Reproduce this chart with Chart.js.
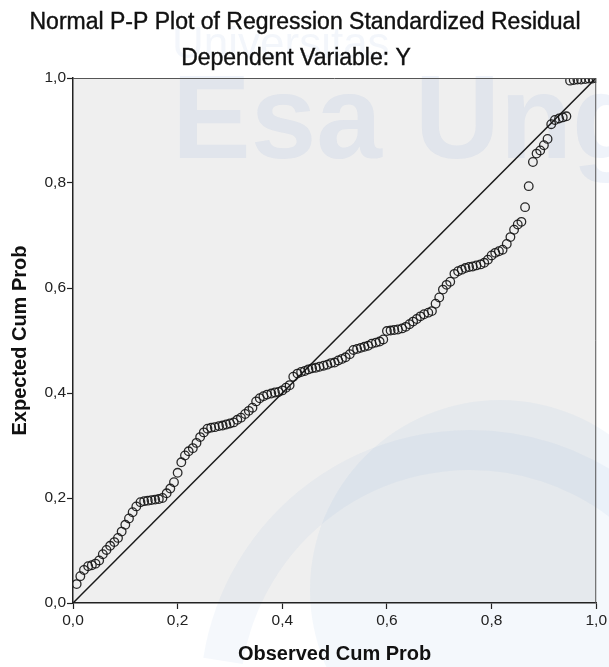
<!DOCTYPE html>
<html>
<head>
<meta charset="utf-8">
<script src="https://cdn.jsdelivr.net/npm/chart.js@4.4.1/dist/chart.umd.min.js"></script>
<style>
  html, body { margin: 0; padding: 0; background: #fff; }
  #wrap { width: 609px; height: 667px; }
</style>
</head>
<body>
<div id="wrap"><canvas id="ppChart" width="609" height="667"></canvas></div>
<script>
// Normal P-P plot data
const observedCumProb = [
  0.007, 0.014, 0.021, 0.029, 0.036, 0.043, 0.050, 0.057, 0.064, 0.071,
  0.079, 0.086, 0.093, 0.100, 0.107, 0.114, 0.121, 0.129, 0.136, 0.143,
  0.150, 0.157, 0.164, 0.171, 0.179, 0.186, 0.193, 0.200, 0.207, 0.214,
  0.221, 0.229, 0.236, 0.243, 0.250, 0.257, 0.264, 0.271, 0.279, 0.286,
  0.293, 0.300, 0.307, 0.314, 0.321, 0.329, 0.336, 0.343, 0.350, 0.357,
  0.364, 0.371, 0.379, 0.386, 0.393, 0.400, 0.407, 0.414, 0.421, 0.429,
  0.436, 0.443, 0.450, 0.457, 0.464, 0.471, 0.479, 0.486, 0.493, 0.500,
  0.507, 0.514, 0.521, 0.529, 0.536, 0.543, 0.550, 0.557, 0.564, 0.571,
  0.579, 0.586, 0.593, 0.600, 0.607, 0.614, 0.621, 0.629, 0.636, 0.643,
  0.650, 0.657, 0.664, 0.671, 0.679, 0.686, 0.693, 0.700, 0.707, 0.714,
  0.721, 0.729, 0.736, 0.743, 0.750, 0.757, 0.764, 0.771, 0.779, 0.786,
  0.793, 0.800, 0.807, 0.814, 0.821, 0.829, 0.836, 0.843, 0.850, 0.857,
  0.864, 0.871, 0.879, 0.886, 0.893, 0.900, 0.907, 0.914, 0.921, 0.929,
  0.936, 0.943, 0.950, 0.957, 0.964, 0.971, 0.979, 0.986, 0.993, 1.000
];
const expectedCumProb = [
  0.036, 0.051, 0.063, 0.070, 0.072, 0.075, 0.081, 0.093, 0.101, 0.109,
  0.116, 0.124, 0.136, 0.149, 0.161, 0.173, 0.184, 0.192, 0.194, 0.195,
  0.196, 0.197, 0.198, 0.200, 0.209, 0.218, 0.230, 0.248, 0.268, 0.281,
  0.289, 0.295, 0.305, 0.316, 0.325, 0.332, 0.334, 0.335, 0.337, 0.338,
  0.340, 0.342, 0.344, 0.349, 0.353, 0.360, 0.366, 0.372, 0.384, 0.390,
  0.394, 0.397, 0.399, 0.401, 0.402, 0.405, 0.410, 0.415, 0.431, 0.437,
  0.440, 0.442, 0.445, 0.447, 0.448, 0.450, 0.452, 0.454, 0.457, 0.458,
  0.462, 0.465, 0.468, 0.474, 0.482, 0.484, 0.486, 0.488, 0.490, 0.494,
  0.496, 0.498, 0.502, 0.518, 0.519, 0.520, 0.521, 0.523, 0.526, 0.531,
  0.536, 0.541, 0.546, 0.550, 0.553, 0.556, 0.570, 0.582, 0.597, 0.606,
  0.612, 0.627, 0.632, 0.635, 0.638, 0.640, 0.641, 0.643, 0.645, 0.648,
  0.654, 0.662, 0.667, 0.670, 0.673, 0.684, 0.697, 0.711, 0.721, 0.726,
  0.754, 0.794, 0.840, 0.856, 0.862, 0.872, 0.884, 0.912, 0.920, 0.923,
  0.925, 0.927, 0.995, 0.996, 0.997, 0.997, 0.998, 0.999, 0.999, 1.000
];
const diagonalX = [0, 1];
const diagonalY = [0, 1];
const tickValues = [0, 0.2, 0.4, 0.6, 0.8, 1.0];

const chartTitle = 'Normal P-P Plot of Regression Standardized Residual';
const chartSubtitle = 'Dependent Variable: Y';
const xAxisTitle = 'Observed Cum Prob';
const yAxisTitle = 'Expected Cum Prob';

const FONT = '"Liberation Sans", Arial, sans-serif';

function fmtTick(v) {
  return v.toFixed(1).replace('.', ',');
}

// background, plot fill and the faint watermark
const backdrop = {
  id: 'backdrop',
  beforeDraw(chart) {
    const { ctx, chartArea: a, width, height } = chart;
    ctx.save();
    ctx.fillStyle = '#ffffff';
    ctx.fillRect(0, 0, width, height);
    ctx.fillStyle = '#efefef';
    ctx.fillRect(a.left, a.top, a.right - a.left, a.bottom - a.top);

    // watermark
    ctx.fillStyle = 'rgba(120, 160, 215, 0.09)';
    ctx.font = '44px ' + FONT;
    ctx.textAlign = 'left';
    ctx.textBaseline = 'alphabetic';
    ctx.fillText('Universitas', 172, 58);
    ctx.fillStyle = 'rgba(120, 160, 215, 0.12)';
    ctx.font = 'bold 118px ' + FONT;
    ctx.fillText('Esa Unggul', 172, 158);

    ctx.beginPath();
    ctx.arc(500, 590, 190, 0, Math.PI * 2);
    ctx.fillStyle = 'rgba(120, 160, 215, 0.08)';
    ctx.fill();
    ctx.beginPath();
    ctx.arc(470, 700, 250, Math.PI * 1.05, Math.PI * 1.75);
    ctx.lineWidth = 40;
    ctx.strokeStyle = 'rgba(120, 160, 215, 0.07)';
    ctx.stroke();
    ctx.restore();
  },
  afterDraw(chart) {
    const { ctx, chartArea: a } = chart;
    ctx.save();
    // top/right frame
    ctx.strokeStyle = '#555';
    ctx.lineWidth = 1;
    ctx.beginPath();
    ctx.moveTo(a.left, a.top + 0.5);
    ctx.lineTo(a.right - 0.5, a.top + 0.5);
    ctx.lineTo(a.right - 0.5, a.bottom);
    ctx.stroke();

    // titles
    ctx.fillStyle = '#111';
    ctx.strokeStyle = '#111';
    ctx.lineWidth = 0.4;
    ctx.textAlign = 'center';
    ctx.textBaseline = 'middle';
    ctx.font = '23px ' + FONT;
    ctx.fillText(chartTitle, 305, 23);
    ctx.strokeText(chartTitle, 305, 23);
    ctx.fillText(chartSubtitle, 296, 59);
    ctx.strokeText(chartSubtitle, 296, 59);
    ctx.restore();
  }
};

new Chart(document.getElementById('ppChart').getContext('2d'), {
  type: 'scatter',
  data: {
    datasets: [
      {
        label: 'Diagonal',
        type: 'line',
        data: diagonalX.map((x, i) => ({ x: x, y: diagonalY[i] })),
        borderColor: '#1a1a1a',
        borderWidth: 1.5,
        pointRadius: 0,
        fill: false,
        order: 2
      },
      {
        label: 'Residual',
        data: observedCumProb.map((x, i) => ({ x: x, y: expectedCumProb[i] })),
        pointStyle: 'circle',
        pointRadius: 4.3,
        pointBorderWidth: 1.3,
        pointBorderColor: 'rgba(20, 20, 20, 0.9)',
        pointBackgroundColor: 'rgba(0, 0, 0, 0)',
        order: 1
      }
    ]
  },
  options: {
    responsive: false,
    animation: false,
    devicePixelRatio: 1,
    layout: { padding: { top: 78, right: 12, bottom: 0, left: 0 } },
    plugins: {
      legend: { display: false },
      tooltip: { enabled: false },
      title: { display: false }
    },
    scales: {
      x: {
        type: 'linear',
        min: 0,
        max: 1,
        afterBuildTicks: s => { s.ticks = tickValues.map(v => ({ value: v })); },
        afterFit: s => { s.height = 64; },
        ticks: {
          callback: v => fmtTick(v),
          color: '#222',
          font: { family: FONT, size: 15.5 },
          padding: 2,
          maxRotation: 0
        },
        grid: { drawOnChartArea: false, tickLength: 6, color: '#222', tickWidth: 1.2 },
        border: { color: '#222', width: 1.5 },
        title: {
          display: true,
          text: xAxisTitle,
          color: '#111',
          font: { family: FONT, size: 20, weight: 'bold' },
          padding: { top: 1, bottom: 1 }
        }
      },
      y: {
        type: 'linear',
        min: 0,
        max: 1,
        afterBuildTicks: s => { s.ticks = tickValues.map(v => ({ value: v })); },
        afterFit: s => { s.width = 73; },
        ticks: {
          callback: v => fmtTick(v),
          color: '#222',
          font: { family: FONT, size: 15.5 },
          padding: 1
        },
        grid: { drawOnChartArea: false, tickLength: 6, color: '#222', tickWidth: 1.2 },
        border: { color: '#222', width: 1.5 },
        title: {
          display: true,
          text: yAxisTitle,
          color: '#111',
          font: { family: FONT, size: 20, weight: 'bold' },
          padding: { top: 8, bottom: 8 }
        }
      }
    }
  },
  plugins: [backdrop]
});
</script>
</body>
</html>
